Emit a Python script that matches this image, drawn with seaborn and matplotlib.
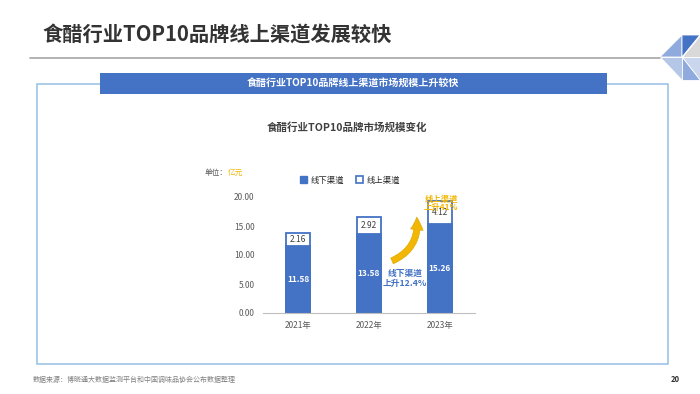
import numpy as np
import pandas as pd
import matplotlib
matplotlib.use('Agg')
import matplotlib.pyplot as plt
import seaborn as sns
from matplotlib.patches import Patch, Rectangle, Polygon

years = ['2021年', '2022年', '2023年']
offline = [11.58, 13.58, 15.26]
online = [2.16, 2.92, 4.12]
y_ticks = [0, 5, 10, 15, 20]

BLUE = '#4472C4'
GOLD = '#F2B705'
DARK = '#404040'
GRAY = '#595959'

sns.set_style('white')
plt.rcParams['font.family'] = ['Noto Sans CJK SC', 'DejaVu Sans']
plt.rcParams['axes.unicode_minus'] = False

df = pd.DataFrame({'year': years, 'offline': offline, 'online': online})
df['total'] = df['offline'] + df['online']

fig = plt.figure(figsize=(7, 3.94), dpi=100)

def fx(x):
    return x / 700.0

def fy(y):
    return 1 - y / 394.0

# page header
fig.text(fx(42), fy(35), '食醋行业TOP10品牌线上渠道发展较快', fontsize=14.6,
         fontweight='bold', color='#333333', ha='left', va='center')
fig.add_artist(plt.Line2D([fx(30), fx(660)], [fy(58), fy(58)], color='#A6A6A6', lw=1.2))

# corner decoration
tris = [
    ([(660, 57), (682, 35), (682, 57)], '#8FAADC'),
    ([(682, 35), (700, 35), (682, 57)], BLUE),
    ([(700, 35), (700, 57), (682, 57)], '#D9D9D9'),
    ([(660, 57), (682, 57), (682, 80)], '#B4C7E7'),
    ([(682, 57), (700, 57), (700, 80)], '#C9D6EE'),
    ([(682, 57), (682, 80), (700, 80)], '#8FAADC'),
]
for pts, c in tris:
    fig.add_artist(Polygon([(fx(a), fy(b)) for a, b in pts], closed=True,
                           transform=fig.transFigure, facecolor=c, edgecolor='white', lw=0.6))

# outer frame and banner
fig.add_artist(Rectangle((fx(37), fy(364)), fx(668) - fx(37), fy(84) - fy(364),
                         transform=fig.transFigure, fill=False, edgecolor='#9DC3E6', lw=1.2))
fig.add_artist(Rectangle((fx(100), fy(94)), fx(607) - fx(100), fy(73) - fy(94),
                         transform=fig.transFigure, facecolor=BLUE, edgecolor='none'))
fig.text(fx(353), fy(83.5), '食醋行业TOP10品牌线上渠道市场规模上升较快', fontsize=7.2,
         fontweight='bold', color='white', ha='center', va='center')

fig.text(fx(347), fy(127), '食醋行业TOP10品牌市场规模变化', fontsize=7.6,
         fontweight='bold', color=DARK, ha='center', va='center')

fig.text(fx(205), fy(173), '单位：', fontsize=5.5, style='italic', color=GRAY,
         ha='left', va='center')
fig.text(fx(228), fy(173), '亿元', fontsize=5.5, style='italic', color=GOLD,
         ha='left', va='center')

# chart
ax = fig.add_axes([fx(263), fy(313), fx(475) - fx(263), fy(197) - fy(313)])
sns.barplot(data=df, x='year', y='total', color='white', edgecolor=BLUE,
            linewidth=1.3, width=0.34, saturation=1, ax=ax)
sns.barplot(data=df, x='year', y='offline', color=BLUE, edgecolor=BLUE,
            linewidth=1.3, width=0.34, saturation=1, ax=ax)

for i in range(len(years)):
    ax.text(i, offline[i] / 2, f'{offline[i]:.2f}', color='white', fontsize=6,
            ha='center', va='center', fontweight='bold')
    ax.text(i, offline[i] + online[i] / 2, f'{online[i]:.2f}', color=DARK, fontsize=6,
            ha='center', va='center')

ax.set_ylim(0, 20)
ax.set_xlim(-0.5, 2.5)
ax.set_yticks(y_ticks)
ax.set_yticklabels([f'{v:.2f}' for v in y_ticks])
ax.set_xlabel('')
ax.set_ylabel('')
ax.tick_params(axis='both', labelsize=6, colors=GRAY, length=0, pad=6)
for s in ['top', 'right', 'left']:
    ax.spines[s].set_visible(False)
ax.spines['bottom'].set_color('#BFBFBF')
ax.spines['bottom'].set_linewidth(0.8)

# annotations
ax.annotate('', xy=(1.67, 17.0), xytext=(1.29, 8.8),
            arrowprops=dict(arrowstyle='simple,head_length=0.9,head_width=0.9,tail_width=0.45',
                            connectionstyle='arc3,rad=0.4', facecolor=GOLD,
                            edgecolor='#E0A800', lw=0.5))
ax.text(1.51, 6.0, '线下渠道\n上升12.4%', color=BLUE, fontsize=6.3, fontweight='bold',
        ha='center', va='center', linespacing=1.25)
ax.text(2.02, 18.9, '线上渠道\n上升41%', color=GOLD, fontsize=6, fontweight='bold',
        ha='center', va='center', linespacing=1.0, clip_on=False)

handles = [Patch(facecolor=BLUE, edgecolor=BLUE, label='线下渠道'),
           Patch(facecolor='white', edgecolor=BLUE, lw=1.2, label='线上渠道')]
fig.legend(handles=handles, loc='center', bbox_to_anchor=(fx(350), fy(180)), ncol=2,
           frameon=False, fontsize=6, handlelength=0.8, handleheight=0.8,
           columnspacing=1.4, handletextpad=0.5)

# footer
fig.text(fx(33), fy(380), '数据来源：博晓通大数据监测平台和中国调味品协会公布数据整理',
         fontsize=5, color='#7F7F7F', ha='left', va='center')
fig.text(fx(680), fy(380), '20', fontsize=5.5, fontweight='bold', color='#333333',
         ha='right', va='center')

fig.savefig('out.png', dpi=100)
